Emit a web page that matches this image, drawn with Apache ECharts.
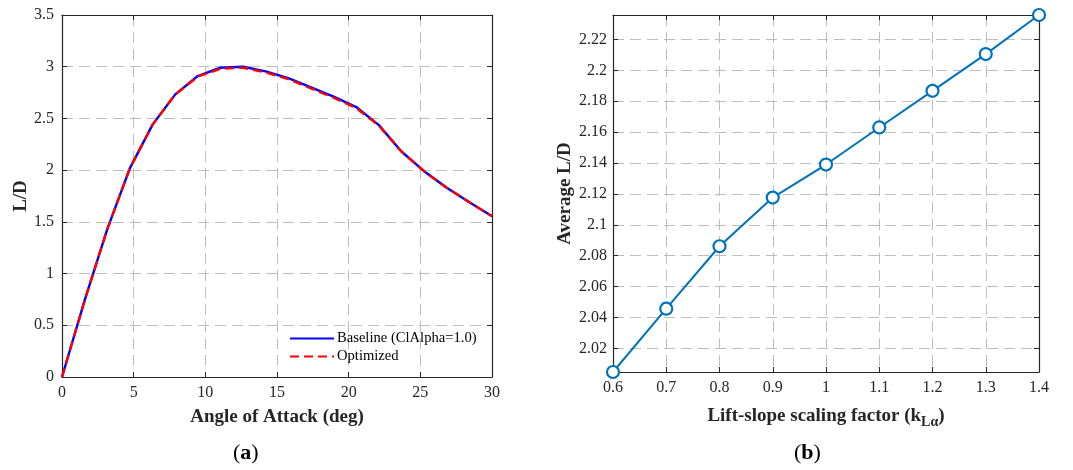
<!DOCTYPE html>
<html>
<head>
<meta charset="utf-8">
<script src="https://cdn.jsdelivr.net/npm/echarts@6/dist/echarts.min.js"></script>
<style>
  html, body { margin: 0; padding: 0; background: #fff; }
  #chart { width: 1073px; height: 470px; }
</style>
</head>
<body>
<div id="chart"></div>
<script>
// (a) L/D versus angle of attack
const aoa = [0, 1.58, 3.16, 4.74, 6.32, 7.89, 9.47, 11.05, 12.63, 14.21,
             15.79, 17.37, 18.95, 20.53, 22.11, 23.68, 25.26, 26.84, 28.42, 30];
const ldBaseline = [0, 0.74, 1.43, 2.02, 2.44, 2.73, 2.91, 2.99, 3.0, 2.955,
                    2.89, 2.80, 2.71, 2.61, 2.435, 2.18, 1.99, 1.83, 1.69, 1.555];
const ldOptimized = [0, 0.74, 1.43, 2.02, 2.44, 2.73, 2.905, 2.98, 2.99, 2.945,
                     2.88, 2.79, 2.70, 2.60, 2.43, 2.18, 1.99, 1.83, 1.69, 1.555];
const seriesNames = ['Baseline (ClAlpha=1.0)', 'Optimized'];

// (b) average L/D versus lift-slope scaling factor
const kScale = [0.6, 0.7, 0.8, 0.9, 1.0, 1.1, 1.2, 1.3, 1.4];
const avgLD = [2.0047, 2.0457, 2.0861, 2.1176, 2.139, 2.163, 2.1867, 2.2105, 2.2358];
const avgTicks = [2.02, 2.04, 2.06, 2.08, 2.1, 2.12, 2.14, 2.16, 2.18, 2.2, 2.22];

const FONT = '"Liberation Serif", "Times New Roman", serif';
const AX = '#262626';
const GRIDC = '#bdbdbd';

const tickLabel = { color: AX, fontFamily: FONT, fontSize: 16 };
const nameStyle = { color: AX, fontFamily: FONT, fontSize: 19, fontWeight: 'bold' };
const dashed = { show: true, lineStyle: { color: GRIDC, width: 1, type: [11, 6] } };
const axLine = { show: true, onZero: false, lineStyle: { color: AX, width: 1.2 } };
const inTick = { show: true, inside: true, length: 5, lineStyle: { color: AX, width: 1 } };

function mirror(base) {
  return Object.assign({}, base, {
    name: '', axisLabel: { show: false }, splitLine: { show: false },
    axisLine: axLine, axisTick: inTick
  });
}

const ldMin = avgLD[0], ldMax = avgLD[avgLD.length - 1];

const xa0 = { type: 'value', gridIndex: 0, position: 'bottom', min: 0, max: 30, interval: 5,
  name: 'Angle of Attack (deg)', nameLocation: 'middle', nameGap: 31, nameTextStyle: nameStyle,
  axisLine: axLine, axisTick: inTick, axisLabel: Object.assign({ margin: 8 }, tickLabel), splitLine: dashed };
const ya0 = { type: 'value', gridIndex: 0, position: 'left', min: 0, max: 3.5, interval: 0.5,
  name: 'L/D', nameLocation: 'middle', nameGap: 25, nameTextStyle: nameStyle,
  axisLine: axLine, axisTick: inTick, axisLabel: Object.assign({ margin: 8 }, tickLabel), splitLine: dashed };

const xa1 = { type: 'value', gridIndex: 1, position: 'bottom', min: 0.6, max: 1.4, interval: 0.1,
  name: 'Lift-slope scaling factor (k{sub|L\u03b1})', nameLocation: 'middle', nameGap: 31,
  nameTextStyle: Object.assign({}, nameStyle, {
    rich: { sub: { fontFamily: FONT, fontSize: 14, fontWeight: 'bold', color: AX, padding: [12, 0, 0, 0] } }
  }),
  axisLine: axLine, axisTick: inTick, axisLabel: Object.assign({ margin: 8 }, tickLabel), splitLine: dashed };
const ya1 = { type: 'value', gridIndex: 1, position: 'left', min: ldMin, max: ldMax,
  name: 'Average L/D', nameLocation: 'middle', nameGap: 38, nameTextStyle: nameStyle,
  axisLine: axLine,
  axisTick: Object.assign({ customValues: avgTicks }, inTick),
  axisLabel: Object.assign({ margin: 6, customValues: avgTicks }, tickLabel),
  splitLine: dashed };

const chart = echarts.init(document.getElementById('chart'), null, { renderer: 'canvas' });
chart.setOption({
  animation: false,
  backgroundColor: '#fff',
  grid: [
    { left: 62, top: 15, width: 430, height: 362 },
    { left: 613, top: 15, width: 426, height: 357 }
  ],
  xAxis: [
    xa0, Object.assign(mirror(xa0), { position: 'top' }),
    xa1, Object.assign(mirror(xa1), { position: 'top' })
  ],
  yAxis: [
    ya0, Object.assign(mirror(ya0), { position: 'right' }),
    ya1, Object.assign(mirror(ya1), { position: 'right',
      axisTick: Object.assign({ customValues: avgTicks }, inTick) })
  ],
  legend: {
    left: 284, top: 326, orient: 'vertical', itemGap: 3, itemWidth: 44, itemHeight: 16,
    itemStyle: { opacity: 0 },
    textStyle: { color: '#000', fontFamily: FONT, fontSize: 14.6, padding: [0, 0, 0, -2] },
    data: seriesNames
  },
  graphic: [
    { type: 'text', left: 233, top: 442,
      style: { text: '({b|a})', fill: '#000', font: '22px ' + FONT,
        rich: { b: { fontFamily: FONT, fontSize: 22, fontWeight: 'bold', fill: '#000' } } } },
    { type: 'text', left: 794, top: 442,
      style: { text: '({b|b})', fill: '#000', font: '22px ' + FONT,
        rich: { b: { fontFamily: FONT, fontSize: 22, fontWeight: 'bold', fill: '#000' } } } }
  ],
  series: [
    { name: seriesNames[0], type: 'line', xAxisIndex: 0, yAxisIndex: 0, symbol: 'none',
      data: aoa.map((a, i) => [a, ldBaseline[i]]),
      lineStyle: { color: '#0000ff', width: 2.4 }, itemStyle: { color: '#0000ff' } },
    { name: seriesNames[1], type: 'line', xAxisIndex: 0, yAxisIndex: 0, symbol: 'none',
      data: aoa.map((a, i) => [a, ldOptimized[i]]),
      lineStyle: { color: '#ff0000', width: 2.4, type: [9, 5] }, itemStyle: { color: '#ff0000' } },
    { name: 'Average L/D', type: 'line', xAxisIndex: 2, yAxisIndex: 2,
      data: kScale.map((k, i) => [k, avgLD[i]]),
      symbol: 'circle', symbolSize: 12, clip: false,
      lineStyle: { color: '#0072bd', width: 2 },
      itemStyle: { color: '#fff', borderColor: '#0072bd', borderWidth: 2.2 } }
  ]
});
</script>
</body>
</html>
